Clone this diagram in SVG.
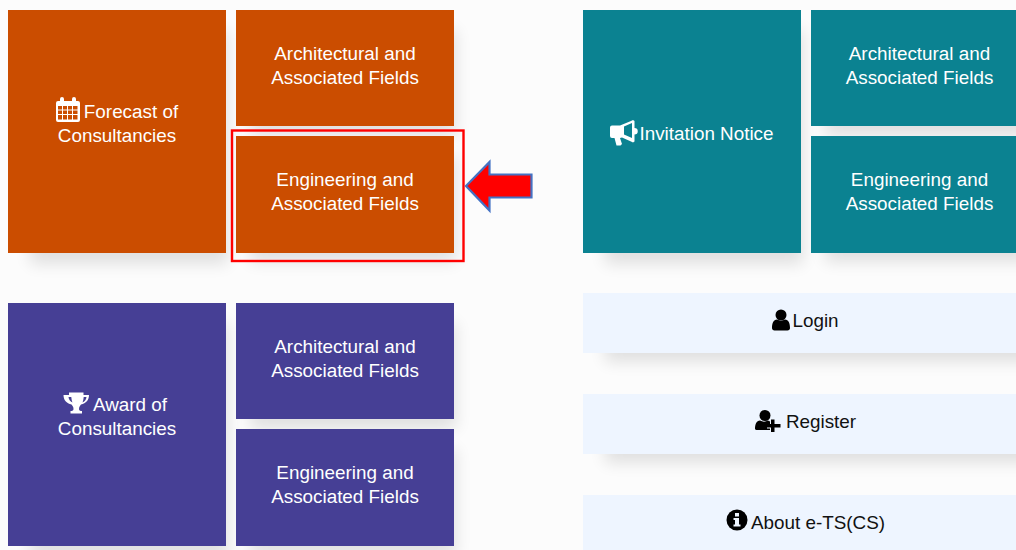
<svg xmlns="http://www.w3.org/2000/svg" width="1016" height="550" viewBox="0 0 1016 550">
<style>
text{font-family:"Liberation Sans",Arial,sans-serif;font-size:18.85px;text-anchor:middle}
.w{fill:#fff}.k{fill:#111}
.o{fill:#cb4d00}.t{fill:#0b8291}.p{fill:#463f95}.l{fill:#eef5ff}
.s{fill:#000;opacity:.11;filter:url(#b)}
.ws{fill:#fff}
</style>
<defs>
<filter id="b" x="-30%" y="-30%" width="160%" height="160%"><feGaussianBlur stdDeviation="8"/></filter>
</defs>
<rect width="1016" height="550" fill="#fcfcfc"/>
<g id="shadows">
<rect class="s" x="30" y="30" width="198" height="234"/>
<rect class="s" x="250" y="30" width="206" height="106"/>
<rect class="s" x="250" y="156" width="206" height="106"/>
<rect class="s" x="605" y="30" width="198" height="234"/>
<rect class="s" x="825" y="30" width="206" height="106"/>
<rect class="s" x="825" y="156" width="206" height="106"/>
<rect class="s" x="30" y="323" width="198" height="234"/>
<rect class="s" x="250" y="323" width="206" height="106"/>
<rect class="s" x="250" y="449" width="206" height="106"/>
<rect class="s" x="605" y="310" width="430" height="52"/>
<rect class="s" x="605" y="411" width="430" height="52"/>
</g>
<g id="forecast"><rect class="o" x="8" y="10" width="218" height="243"/>
<path class="ws" fill-rule="evenodd" d="M56 103a2 2 0 0 1 2-2h2v-2a2 2 0 0 1 4 0v2h8v-2a2 2 0 0 1 4 0v2h2a2 2 0 0 1 2 2v17a2 2 0 0 1-2 2H58a2 2 0 0 1-2-2zM58 106v3.500h4v-3.500zM63 106v3.500h4v-3.500zM68 106v3.500h4v-3.500zM73 106v3.500h4.500v-3.500zM58 110.500v3.500h4v-3.500zM63 110.500v3.500h4v-3.500zM68 110.500v3.500h4v-3.500zM73 110.500v3.500h4.500v-3.500zM58 115v4.500h4v-4.500zM63 115v4.500h4v-4.500zM68 115v4.500h4v-4.500zM73 115v4.500h4.500v-4.500z"/>
<text class="w" x="131" y="117.500">Forecast of</text><text class="w" x="117" y="142">Consultancies</text></g>
<g id="forecast-arch"><rect class="o" x="236" y="10" width="218" height="116"/><text class="w" x="345" y="59.500">Architectural and</text><text class="w" x="345" y="83.500">Associated Fields</text></g>
<g id="forecast-eng"><rect class="o" x="236" y="136" width="218" height="117"/><text class="w" x="345" y="185.500">Engineering and</text><text class="w" x="345" y="209.500">Associated Fields</text></g>
<g id="invitation"><rect class="t" x="583" y="10" width="218" height="243"/>
<path class="ws" d="M610 127.500a2 2 0 0 1 2-2h8l11-4.500 2-1 1.500 1v7a3 3 0 0 1 0 6.500v7l-1.500 1-2-1-9-4-2 .5 2 6-1.500 1.500h-4l-2-7.500h-2.500a2 2 0 0 1-2-2z"/>
<path fill="#0b8291" d="M624 126.500l8-3.500v15l-8-3.500z"/>
<text class="w" x="706.500" y="140">Invitation Notice</text></g>
<g id="invitation-arch"><rect class="t" x="811" y="10" width="205" height="116"/><text class="w" x="919.500" y="59.500">Architectural and</text><text class="w" x="919.500" y="83.500">Associated Fields</text></g>
<g id="invitation-eng"><rect class="t" x="811" y="136" width="205" height="117"/><text class="w" x="919.500" y="185.500">Engineering and</text><text class="w" x="919.500" y="209.500">Associated Fields</text></g>
<g id="award"><rect class="p" x="8" y="303" width="218" height="243"/>
<path class="ws" fill-rule="evenodd" d="M72 392.500h11.500v2.500h5.500c0 5-3 8.500-8 9.500-1 1.500-2 2-2 4.500 0 1.500 1 2 3 2v2.500h-11.500v-2.500c2 0 3-.5 3-2 0-2.500-1-3-2-4.500-5-1-8-4.500-8-9.500h5.500v-2.500zM68.500 397c.3 2.500 1.500 4.500 4 5.500-.7-1.500-1-3.500-1.200-5.500zM86.500 397h-2.800c-.2 2-.5 4-1.200 5.500 2.500-1 3.700-3 4-5.500z"/>
<text class="w" x="130" y="410.500">Award of</text><text class="w" x="117" y="435">Consultancies</text></g>
<g id="award-arch"><rect class="p" x="236" y="303" width="218" height="116"/><text class="w" x="345" y="352.500">Architectural and</text><text class="w" x="345" y="376.500">Associated Fields</text></g>
<g id="award-eng"><rect class="p" x="236" y="429" width="218" height="117"/><text class="w" x="345" y="478.500">Engineering and</text><text class="w" x="345" y="502.500">Associated Fields</text></g>
<g id="login"><rect class="l" x="583" y="293" width="433" height="60"/>
<circle cx="781" cy="315" r="5.500" fill="#000"/><path fill="#000" d="M772 328c0-5 1.500-8 5-8.500 2.500 1.500 5.500 1.500 8 0 3.500.5 5 3.500 5 8.500 0 1.500-1 2.500-2.500 2.500h-13c-1.500 0-2.500-1-2.500-2.500z"/>
<text class="k" x="815.500" y="327">Login</text></g>
<g id="register"><rect class="l" x="583" y="394" width="433" height="60"/>
<circle cx="765" cy="415.500" r="5.500" fill="#000"/><path fill="#000" d="M755 429c0-5 1.500-8 5-8.500 2.500 1.500 5.500 1.500 8 0l2 1v3h-3v4h3v1.500h-12.500c-1.500 0-2.500-.5-2.500-1z"/><path fill="#000" d="M771 419.500h3.500v4.500h6v3.500h-6v4.500h-3.500v-4.500h-5v-3.500h5z"/>
<text class="k" x="821" y="428">Register</text></g>
<g id="about"><rect class="l" x="583" y="495" width="433" height="55"/>
<circle cx="737" cy="520" r="10.500" fill="#000"/><rect x="735" y="513" width="4" height="3.500" fill="#eef5ff"/><path fill="#eef5ff" d="M733.500 518h5.500v6.500h1.500v2h-7v-2h1.500v-4.500h-1.500z"/>
<text class="k" x="818" y="529">About e-TS(CS)</text></g>
<g id="connectors">
<rect x="232" y="130.500" width="231.500" height="130.500" fill="none" stroke="#f00" stroke-width="2.400"/>
<path d="M466 186l23.500-24v12.500h42v23h-42v13z" fill="#f00" stroke="#4472c4" stroke-width="2.200"/>
</g>
</svg>
